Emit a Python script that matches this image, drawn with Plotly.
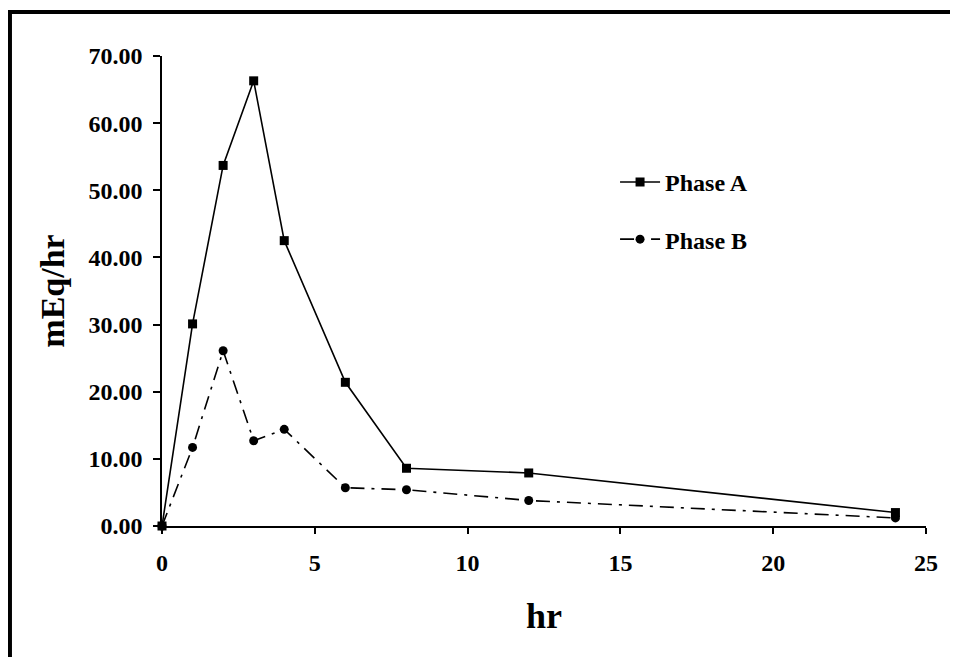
import plotly.graph_objects as go

hours = [0, 1, 2, 3, 4, 6, 8, 12, 24]
phase_a = [0.0, 30.1, 53.7, 66.3, 42.5, 21.4, 8.6, 7.9, 2.0]
phase_b = [0.0, 11.7, 26.1, 12.7, 14.4, 5.7, 5.4, 3.8, 1.2]
x_ticks = [0, 5, 10, 15, 20, 25]
y_ticks = [0, 10, 20, 30, 40, 50, 60, 70]
x_tick_text = [f"<b>{v}</b>" for v in x_ticks]
y_tick_text = [f"<b>{v:.2f}</b>" for v in y_ticks]

FONT = "Liberation Serif"

fig = go.Figure()
fig.add_trace(go.Scatter(
    x=hours, y=phase_a, name="<b>Phase A</b>", mode="lines+markers",
    line=dict(color="black", width=1.6),
    marker=dict(symbol="square", size=9, color="black"),
    cliponaxis=False, legendgroup="a",
))
fig.add_trace(go.Scatter(
    x=hours, y=phase_b, name="<b>Phase B</b>", mode="lines+markers",
    line=dict(color="black", width=1.6, dash="14px,7px,3px,7px"),
    marker=dict(symbol="circle", size=9, color="black"),
    cliponaxis=False, legendgroup="b",
))

axis_common = dict(showgrid=False, zeroline=False)
fig.update_layout(
    width=958, height=657,
    margin=dict(l=154, r=40, t=48, b=139),
    plot_bgcolor="white", paper_bgcolor="white",
    font=dict(family=FONT, color="black"),
    showlegend=True,
    legend=dict(
        x=0.593, y=0.779, xanchor="left", yanchor="top",
        font=dict(family=FONT, size=24, color="black"),
        bgcolor="rgba(0,0,0,0)", traceorder="grouped", tracegroupgap=23,
        itemwidth=40,
    ),
    xaxis=dict(
        **axis_common, range=[0, 25], tickmode="array", tickvals=x_ticks,
        ticktext=x_tick_text,
        showline=True, linecolor="black", linewidth=1.5,
        ticks="outside", ticklen=6, tickwidth=1.5, tickcolor="black",
        ticklabelstandoff=8,
        tickfont=dict(family=FONT, size=24, color="black"),
        title=dict(text="<b>hr</b>", font=dict(family=FONT, size=36), standoff=28),
    ),
    yaxis=dict(
        **axis_common, range=[0, 70], tickmode="array", tickvals=y_ticks,
        ticktext=y_tick_text,
        showline=True, linecolor="black", linewidth=1.5,
        ticks="outside", ticklen=7, tickwidth=1.5, tickcolor="black",
        ticklabelstandoff=6,
        tickfont=dict(family=FONT, size=24, color="black"),
        title=dict(text="<b>mEq/hr</b>", font=dict(family=FONT, size=34), standoff=14),
    ),
    xaxis2=dict(
        **axis_common, range=[0, 25], overlaying="x", anchor="y", side="bottom",
        tickmode="array", tickvals=x_ticks, showticklabels=False,
        ticks="inside", ticklen=6, tickwidth=1.5, tickcolor="black", showline=False,
    ),
    yaxis2=dict(
        **axis_common, range=[0, 70], overlaying="y", anchor="x", side="left",
        tickmode="array", tickvals=y_ticks, showticklabels=False,
        ticks="inside", ticklen=7, tickwidth=1.5, tickcolor="black", showline=False,
    ),
)

# frame around the page (top and left edges visible)
fig.add_shape(type="rect", xref="paper", yref="paper",
              x0=-0.199, x1=1.2, y0=-0.4, y1=1.0936,
              line=dict(color="black", width=4), fillcolor="rgba(0,0,0,0)")

fig.write_html("out.html")
